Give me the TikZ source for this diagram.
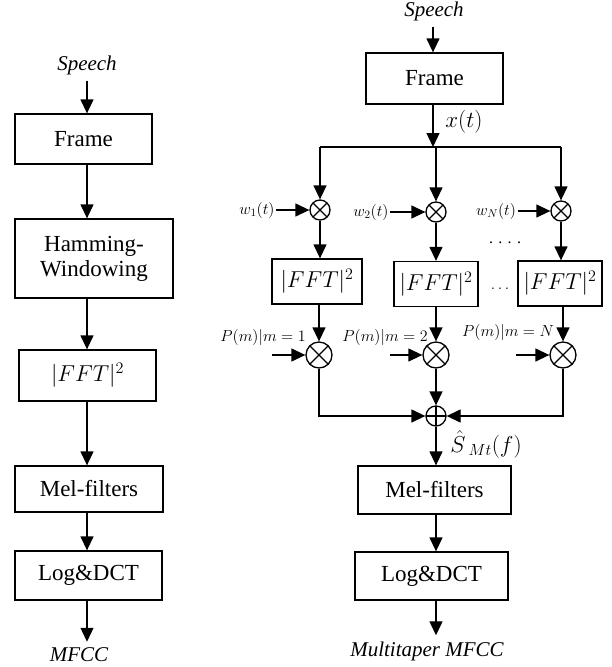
\documentclass[tikz,border=0pt]{standalone}
\usepackage{fix-cm}
\usepackage{fontspec}
\setmainfont{Liberation Serif}
\usetikzlibrary{arrows.meta}

\begin{document}
\begin{tikzpicture}
[x=1pt,y=-1pt,
  blockdecorate/.style={shape=rectangle,draw,line width=1.3pt,inner sep=0pt,align=center,%
    font=\fontsize{23}{25}\selectfont},
  labeldecorate/.style={inner xsep=0pt,inner ysep=6pt,font=\fontsize{21}{23}\selectfont\itshape},
  mathdecorate/.style={inner sep=1.5pt,font=\fontsize{16}{18}\selectfont},
  bigmathdecorate/.style={inner sep=0pt,font=\fontsize{23}{25}\selectfont},
  muldecorate/.style={shape=circle,draw,line width=1.3pt,inner sep=0pt,%
    path picture={\draw[line width=1.3pt]
      (path picture bounding box.north west) -- (path picture bounding box.south east)
      (path picture bounding box.south west) -- (path picture bounding box.north east);}},
  sumdecorate/.style={shape=circle,draw,line width=1.3pt,inner sep=0pt,%
    path picture={\draw[line width=1.3pt]
      (path picture bounding box.north) -- (path picture bounding box.south)
      (path picture bounding box.west) -- (path picture bounding box.east);}},
  linedecorate/.style={line width=1.3pt,-{Triangle[length=14pt,width=13pt]}},
  plaindecorate/.style={line width=1.3pt}]
\useasboundingbox (0,0) rectangle (611,667);
%% left: plain MFCC
\node (lspeech) at (87,65) [labeldecorate] {Speech};
\foreach \nodename/\x/\y/\w/\h/\txt in {lframe/83.5/139/137/50/Frame,
    lham/94/258.5/158/79/{Hamming-\\Windowing}, lfft/87.5/375.5/137/51/{$|FFT|^2$},
    lmel/89/489/148/46/Mel-filters, llog/88.5/575.5/147/49/{Log\&DCT}} {
  \node (\nodename) at (\x,\y) [blockdecorate,minimum width=\w pt,minimum height=\h pt] {\txt};
}
\node (lmfcc) at (79,655) [labeldecorate] {MFCC};
\foreach \startnode/\endnode in {lspeech/lframe, lframe/lham, lham/lfft, lfft/lmel, lmel/llog, llog/lmfcc} {
  \draw[linedecorate] (\startnode.south -| lspeech) -- (\endnode.north -| lspeech);
}
%% right: multitaper MFCC
\node (rspeech) at (434,11) [labeldecorate] {Speech};
\node (rframe) at (434.5,78.5) [blockdecorate,minimum width=137pt,minimum height=51pt] {Frame};
\coordinate (split) at (433,147);
\coordinate (splitl) at (320,147);
\coordinate (splitr) at (561,147);
\draw[linedecorate] (rspeech.south -| split) -- (rframe.north -| split);
\draw[linedecorate] (rframe.south -| split) -- (split);
\node (xt) at (464,122) [bigmathdecorate] {$x(t)$};
\draw[plaindecorate] (splitl) -- (splitr);
%% tapers
\foreach \nodename/\x/\y in {mula/320/210, mulb/436/212, mulc/561/211} {
  \node (\nodename) at (\x,\y) [muldecorate,minimum size=20pt] {};
  \draw[linedecorate] (\nodename.north |- split) -- (\nodename.north);
}
\node (wa) at (257,210) [mathdecorate] {$w_1(t)$};
\node (wb) at (371,212) [mathdecorate] {$w_2(t)$};
\node (wc) at (496,211) [mathdecorate] {$w_N(t)$};
\path
\foreach \startnode/\endnode in {wa/mula, wb/mulb, wc/mulc} {
  (\startnode) edge[linedecorate] (\endnode)
};
\node (dotsa) at (505,243) [mathdecorate] {. . . .};
%% spectra
\foreach \nodename/\x/\y/\w in {ffta/317/281.5/90, fftb/436/284/84, fftc/560/283.5/84} {
  \node (\nodename) at (\x,\y) [blockdecorate,minimum width=\w pt,minimum height=45pt] {$|FFT|^2$};
}
\node (dotsb) at (500,289) [mathdecorate] {$\ldots$};
\foreach \startnode/\endnode in {mula/ffta, mulb/fftb, mulc/fftc} {
  \draw[linedecorate] (\startnode.south) -- (\startnode.south |- \endnode.north);
}
%% weights
\foreach \nodename/\x in {pma/319, pmb/436, pmc/563} {
  \node (\nodename) at (\x,355) [muldecorate,minimum size=26pt] {};
}
\draw[linedecorate] (ffta.south -| pma) -- (pma.north);
\draw[linedecorate] (fftb.south -| pmb) -- (pmb.north);
\draw[linedecorate] (fftc.south -| pmc) -- (pmc.north);
\node (pla) at (263,337) [mathdecorate] {$P(m)|m=1$};
\node (plb) at (385,337) [mathdecorate] {$P(m)|m=2$};
\node (plc) at (508,332) [mathdecorate] {$P(m)|m=N$};
\coordinate (ina) at (272,355);
\coordinate (inb) at (390,355);
\coordinate (inc) at (516,355);
\draw[linedecorate] (ina) -- (pma.west);
\draw[linedecorate] (inb) -- (pmb.west);
\draw[linedecorate] (inc) -- (pmc.west);
%% sum and back end
\node (sum) at (436,416) [sumdecorate,minimum size=20pt] {};
\draw[linedecorate] (pma.south) |- (sum.west);
\draw[linedecorate] (pmc.south) |- (sum.east);
\draw[linedecorate] (pmb.south) -- (sum.north);
\node (shat) at (486,444) [bigmathdecorate] {$\hat{S}_{\;Mt}(f)$};
\node (rmel) at (434.5,490) [blockdecorate,minimum width=153pt,minimum height=48pt] {Mel-filters};
\node (rlog) at (431.5,576) [blockdecorate,minimum width=153pt,minimum height=48pt] {Log\&DCT};
\node (rmfcc) at (427,651) [labeldecorate] {Multitaper MFCC};
\foreach \startnode/\endnode in {sum/rmel, rmel/rlog, rlog/rmfcc} {
  \draw[linedecorate] (\startnode.south -| sum) -- (\endnode.north -| sum);
}
\end{tikzpicture}
\end{document}
